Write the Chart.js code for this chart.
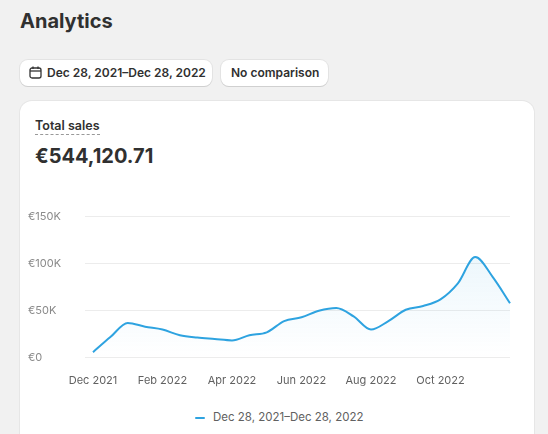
<!DOCTYPE html>
<html><head><meta charset="utf-8">
<script src="https://cdn.jsdelivr.net/npm/chart.js@4"></script>
<style>
body{margin:0;background:#f1f1f1;font-family:Inter,"Noto Sans",sans-serif;color:#303030;width:548px;height:434px;overflow:hidden}
h1{position:absolute;left:20px;top:9px;margin:0;font-size:20px;font-weight:700}
.btn{position:absolute;top:60px;height:26px;background:#fff;border-radius:8px;box-shadow:0 1px 0 #d0d0d0,0 0 0 1px #e3e3e3;font-size:12px;font-weight:600;line-height:26px;padding:0 10px;box-sizing:border-box;white-space:nowrap}
.card{position:absolute;left:20px;top:101px;width:514px;height:360px;background:#fff;border-radius:12px;box-shadow:0 0 0 1px #e6e6e6}
.lbl{position:absolute;left:15px;top:17px;font-size:12.5px;font-weight:600;border-bottom:1px dashed #999;padding-bottom:1px}
.val{position:absolute;left:15px;top:43px;font-size:20px;font-weight:700}
.wrap{position:absolute;left:8px;top:79px;width:490px;height:215px}
</style></head><body>
<h1>Analytics</h1>
<div class="btn" style="left:20px;width:192px;padding-left:27px">
<svg style="position:absolute;left:9px;top:6px" width="13" height="13" viewBox="0 0 13 13"><rect x="1" y="2" width="11" height="10" rx="2" fill="none" stroke="#333" stroke-width="1.3"/><line x1="1" y1="5" x2="12" y2="5" stroke="#333" stroke-width="1.3"/><line x1="4" y1="0.5" x2="4" y2="3" stroke="#333" stroke-width="1.3"/><line x1="9" y1="0.5" x2="9" y2="3" stroke="#333" stroke-width="1.3"/></svg>
Dec 28, 2021–Dec 28, 2022</div>
<div class="btn" style="left:221px;width:107px">No comparison</div>
<div class="card">
<div class="lbl">Total sales</div>
<div class="val">€544,120.71</div>
<div class="wrap"><canvas id="c"></canvas></div>
</div>
<div style="position:absolute;left:195px;top:410px;font-size:11.5px;color:#616161"><span style="display:inline-block;width:10px;height:2px;background:#2ea3e0;vertical-align:middle;margin-right:8px;border-radius:1px"></span>Dec 28, 2021–Dec 28, 2022</div>
<script>
const periods = ['Dec 2021','','','','Feb 2022','','','','Apr 2022','','','','Jun 2022','','','','Aug 2022','','','','Oct 2022','','','',''];
const sales = [6,22,37,33,30,24,21.5,20,18.5,24,27,39,43,50,53,44,30,39,51,55,62,79,107,86,58].map(v=>v*1000);
const yTicks = [0,50000,100000,150000];

new Chart(document.getElementById('c'), {
  type:'line',
  data:{ labels:periods, datasets:[{ data:sales, borderColor:'#2ea3e0', borderWidth:2, pointRadius:0, tension:0.4, cubicInterpolationMode:'monotone',
    fill:true, backgroundColor:(ctx)=>{ const a=ctx.chart.chartArea; if(!a) return 'rgba(46,163,224,0.05)';
      const g=ctx.chart.ctx.createLinearGradient(0,a.top,0,a.bottom); g.addColorStop(0,'rgba(46,163,224,0.12)'); g.addColorStop(1,'rgba(46,163,224,0)'); return g; } }] },
  options:{ responsive:true, maintainAspectRatio:false, animation:false,
    layout:{ padding:{ top:2, right:0 } },
    plugins:{ legend:{ display:false }, tooltip:{ enabled:false } },
    scales:{
      x:{ grid:{ display:false }, border:{ display:false },
        ticks:{ autoSkip:false, maxRotation:0, color:'#616161', font:{ family:'Inter', size:11 }, padding:8 } },
      y:{ min:0, max:150000, afterBuildTicks:(s)=>{ s.ticks=yTicks.map(v=>({value:v})); },
        afterFit:(s)=>{ s.width=65; },
        grid:{ color:'#ececec' }, border:{ display:false },
        ticks:{ color:'#8a8a8a', font:{ family:'Inter', size:11 }, padding:30, crossAlign:'far', callback:v=> v===0?'€0':'€'+(v/1000)+'K' } } } }
});
</script>
</body></html>
